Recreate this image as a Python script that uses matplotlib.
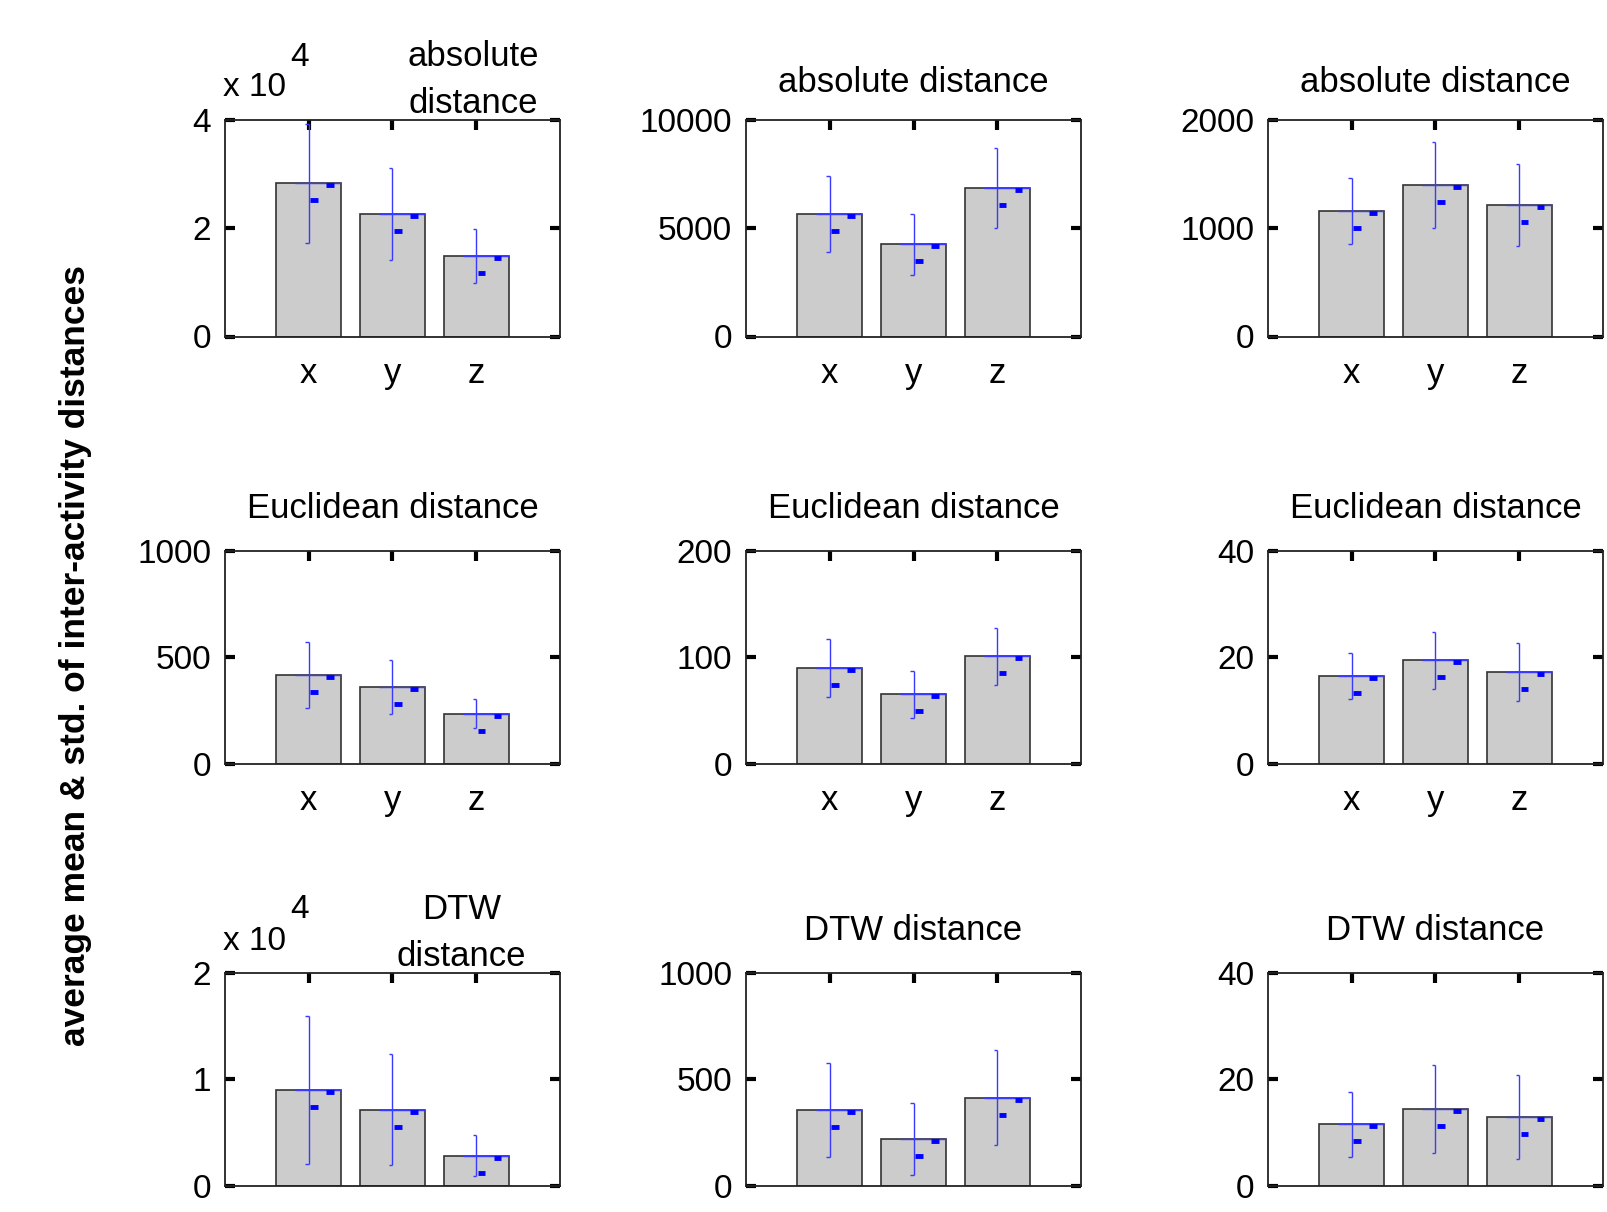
import matplotlib
matplotlib.use('Agg')
import matplotlib.pyplot as plt
import matplotlib.transforms as mtransforms
import numpy as np

plt.rcParams['font.family'] = ['Liberation Sans', 'DejaVu Sans']

W, H = 1608, 1212  # figure size in pixels

# data: one row per distance, one list per column (x, y, z bars)
bar_names = ['x', 'y', 'z']
row_titles = ['absolute distance', 'Euclidean distance', 'DTW distance']

abs_mean = [[28300, 22700, 14800], [5650, 4250, 6850], [1155, 1400, 1215]]
abs_std = [[11000, 8500, 5000], [1750, 1400, 1850], [305, 395, 375]]
euc_mean = [[415, 360, 235], [90, 65, 101], [16.5, 19.4, 17.2]]
euc_std = [[155, 125, 70], [27, 22, 27], [4.3, 5.4, 5.4]]
dtw_mean = [[9000, 7150, 2800], [355, 218, 413], [11.5, 14.4, 12.9]]
dtw_std = [[7000, 5200, 1950], [223, 170, 224], [6.1, 8.2, 7.9]]

y_max = [[40000, 10000, 2000], [1000, 200, 40], [20000, 1000, 40]]
y_scale = [[1e4, 1, 1], [1, 1, 1], [1e4, 1, 1]]

means = [abs_mean, euc_mean, dtw_mean]
stds = [abs_std, euc_std, dtw_std]

# layout (pixels)
col_left = [225, 746, 1268]
col_width = 335
row_top = [120, 551, 973]
row_bottom = [336.5, 763.5, 1185.5]
title_gap = [37, 42, 42]
wrap_gap = [40, 0, 40]

fig = plt.figure(figsize=(W / 100, H / 100), dpi=100)

for r in range(3):
    for c in range(3):
        hpx = row_bottom[r] - row_top[r]
        ax = fig.add_axes([col_left[c] / W, 1 - row_bottom[r] / H, col_width / W, hpx / H])
        sc = y_scale[r][c]
        m = np.array(means[r][c]) / sc
        s = np.array(stds[r][c]) / sc
        x = np.arange(1, 4)

        ax.bar(x, m, width=0.78, color='#cccccc', edgecolor='#333333', linewidth=1.2, zorder=2)
        ax.vlines(x, m - s, m + s, color='#3a3aff', lw=1.0, zorder=3)
        ax.hlines(m + s, x - 0.04, x, color='#3a3aff', lw=1.0, zorder=3)
        ax.hlines(m - s, x - 0.04, x, color='#3a3aff', lw=1.0, zorder=3)
        ax.hlines(m, x - 0.16, x + 0.39, color='#3a3aff', lw=1.0, zorder=3)
        off_hi = mtransforms.offset_copy(ax.transData, fig=fig, y=-2, units='dots')
        off_lo = mtransforms.offset_copy(ax.transData, fig=fig, y=-17, units='dots')
        ax.hlines(m, x + 0.21, x + 0.30, color='blue', lw=3.5, zorder=4, transform=off_hi)
        ax.hlines(m, x + 0.02, x + 0.11, color='blue', lw=3.5, zorder=4, transform=off_lo)

        top = y_max[r][c] / sc
        ax.set_xlim(0, 4)
        ax.set_ylim(0, top)
        ax.set_yticks([0, top / 2, top])
        ax.set_yticklabels(['%g' % v for v in [0, top / 2, top]])
        ax.set_xticks(x)
        # bottom row labels fall outside the cropped figure
        ax.set_xticklabels(bar_names if r < 2 else [])
        ax.set_axisbelow(True)
        ax.tick_params(direction='in', length=7, width=3, top=True, right=True,
                       labelsize=24, colors='black')
        ax.tick_params(axis='y', pad=10)
        ax.tick_params(axis='x', pad=15, labelsize=25)
        for sp in ax.spines.values():
            sp.set_linewidth(1.3)
            sp.set_color('#222222')

        if sc != 1:
            # exponent label and wrapped title, as in the original
            ax.text(-2 / col_width, 1 + 32 / hpx, 'x 10', transform=ax.transAxes,
                    ha='left', va='center', fontsize=24)
            ax.text(75 / col_width, 1 + 63 / hpx, '4', transform=ax.transAxes,
                    ha='center', va='center', fontsize=24)
            t = row_titles[r].replace(' ', '\n')
            tx = 0.74 if r == 0 else 0.705
            ax.text(tx, 1 + wrap_gap[r] / hpx, t, transform=ax.transAxes, ha='center',
                    va='center', fontsize=25, linespacing=1.55)
        else:
            ax.text(0.5, 1 + title_gap[r] / hpx, row_titles[r], transform=ax.transAxes,
                    ha='center', va='center', fontsize=25)

fig.text(76 / W, 1 - 656 / H, 'average mean & std. of inter-activity distances',
         rotation=90, ha='center', va='center', fontsize=25.5, fontweight='bold')

fig.savefig('out.png', dpi=100)
